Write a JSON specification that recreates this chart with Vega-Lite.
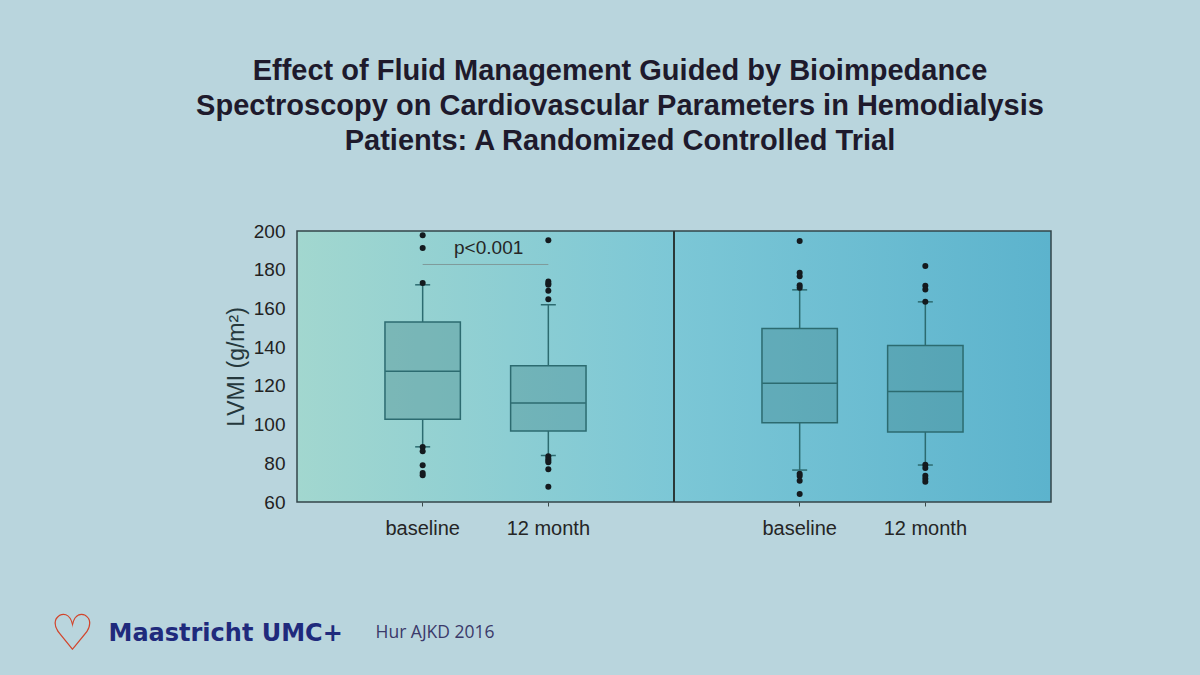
{
  "$schema": "https://vega.github.io/schema/vega-lite/v6.json",
  "autosize": {"type": "none"},
  "padding": {"left": 297, "top": 231, "right": 149, "bottom": 173},
  "width": 754,
  "height": 271,
  "background": "#b9d5dd",
  "title": {
    "text": ["Effect of Fluid Management Guided by Bioimpedance", "Spectroscopy on Cardiovascular Parameters in Hemodialysis", "Patients: A Randomized Controlled Trial"],
    "font": "Liberation Sans",
    "fontSize": 29,
    "fontWeight": "bold",
    "color": "#1e1a2c",
    "lineHeight": 35,
    "anchor": "middle",
    "frame": "group",
    "dx": -54,
    "offset": 37,
    "baseline": "bottom"
  },
  "config": {
    "view": {
      "stroke": "#33454a",
      "strokeWidth": 1.5,
      "fill": {"gradient": "linear", "x1": 0, "y1": 0, "x2": 1, "y2": 0, "stops": [{"offset": 0, "color": "#a2d7cf"}, {"offset": 0.5, "color": "#7cc7d6"}, {"offset": 1, "color": "#5cb3cd"}]}
    },
    "axis": {"grid": false}
  },
  "resolve": {"axis": {"x": "independent", "y": "independent"}},
  "datasets": {
    "boxes": [
      {"key": "L|baseline", "lower": 88.5, "q1": 102.8, "median": 127.5, "q3": 153, "upper": 172.2},
      {"key": "L|12 month", "lower": 84, "q1": 96.7, "median": 111.1, "q3": 130.4, "upper": 161.9},
      {"key": "R|baseline", "lower": 76.5, "q1": 100.9, "median": 121.3, "q3": 149.6, "upper": 169.6},
      {"key": "R|12 month", "lower": 79.1, "q1": 96.2, "median": 117.1, "q3": 140.8, "upper": 163.4}
    ],
    "outliers": [
      {"key": "L|baseline", "value": 197.8},
      {"key": "L|baseline", "value": 191.2},
      {"key": "L|baseline", "value": 173.1},
      {"key": "L|baseline", "value": 88.4},
      {"key": "L|baseline", "value": 86.2},
      {"key": "L|baseline", "value": 79.0},
      {"key": "L|baseline", "value": 75.0},
      {"key": "L|baseline", "value": 73.8},
      {"key": "L|12 month", "value": 195.2},
      {"key": "L|12 month", "value": 173.9},
      {"key": "L|12 month", "value": 172.9},
      {"key": "L|12 month", "value": 172.2},
      {"key": "L|12 month", "value": 169.1},
      {"key": "L|12 month", "value": 164.8},
      {"key": "L|12 month", "value": 83.6},
      {"key": "L|12 month", "value": 82.4},
      {"key": "L|12 month", "value": 81.4},
      {"key": "L|12 month", "value": 80.5},
      {"key": "L|12 month", "value": 76.9},
      {"key": "L|12 month", "value": 67.9},
      {"key": "R|baseline", "value": 194.8},
      {"key": "R|baseline", "value": 178.4},
      {"key": "R|baseline", "value": 176.6},
      {"key": "R|baseline", "value": 172.0},
      {"key": "R|baseline", "value": 170.7},
      {"key": "R|baseline", "value": 74.6},
      {"key": "R|baseline", "value": 73.4},
      {"key": "R|baseline", "value": 71.0},
      {"key": "R|baseline", "value": 64.1},
      {"key": "R|12 month", "value": 181.9},
      {"key": "R|12 month", "value": 171.7},
      {"key": "R|12 month", "value": 169.8},
      {"key": "R|12 month", "value": 163.4},
      {"key": "R|12 month", "value": 79.3},
      {"key": "R|12 month", "value": 77.6},
      {"key": "R|12 month", "value": 73.6},
      {"key": "R|12 month", "value": 72.0},
      {"key": "R|12 month", "value": 70.4}
    ],
    "sig": [{"from": "L|baseline", "to": "L|12 month", "y": 182.7, "labelY": 191.2, "label": "p<0.001"}],
    "divider": [{"key": "gap"}]
  },
  "layer": [
    {
      "data": {"name": "boxes"},
      "mark": {"type": "rule", "stroke": "#2c6b70", "strokeWidth": 1.5},
      "encoding": {
        "x": {"field": "key", "type": "nominal", "axis": null, "scale": {"domain": ["L|baseline", "L|12 month", "gap", "R|baseline", "R|12 month"], "paddingInner": 0.4, "paddingOuter": 0.7}},
        "y": {"field": "lower", "type": "quantitative", "axis": null, "scale": {"domain": [60, 200], "nice": false, "zero": false}},
        "y2": {"field": "q1"}
      }
    },
    {
      "data": {"name": "boxes"},
      "mark": {"type": "rule", "stroke": "#2c6b70", "strokeWidth": 1.5},
      "encoding": {
        "x": {"field": "key", "type": "nominal", "axis": null, "scale": {"domain": ["L|baseline", "L|12 month", "gap", "R|baseline", "R|12 month"], "paddingInner": 0.4, "paddingOuter": 0.7}},
        "y": {"field": "q3", "type": "quantitative", "axis": null, "scale": {"domain": [60, 200], "nice": false, "zero": false}},
        "y2": {"field": "upper"}
      }
    },
    {
      "data": {"name": "boxes"},
      "mark": {"type": "bar", "fill": "#3a7c80", "fillOpacity": 0.32, "stroke": "#2c6b70", "strokeWidth": 1.5},
      "encoding": {
        "x": {
          "field": "key", "type": "nominal",
          "scale": {"domain": ["L|baseline", "L|12 month", "gap", "R|baseline", "R|12 month"], "paddingInner": 0.4, "paddingOuter": 0.7},
          "axis": {
            "orient": "bottom",
            "values": ["L|baseline", "L|12 month", "R|baseline", "R|12 month"],
            "labelExpr": "split(datum.label, '|')[1]",
            "labelAngle": 0,
            "labelFont": "Liberation Sans",
            "labelFontSize": 20,
            "labelColor": "#252525",
            "labelPadding": 12,
            "domain": false,
            "ticks": true,
            "tickSize": 4,
            "tickColor": "#3a4a4a",
            "bandPosition": 0.5,
            "title": "Maastricht UMC+",
            "titleX": -189,
            "titleY": 131,
            "titleAlign": "left",
            "titleAnchor": null,
            "titleBaseline": "middle",
            "titleFont": "DejaVu Sans",
            "titleFontSize": 24,
            "titleFontWeight": "bold",
            "titleColor": "#1f2a7c"
          }
        },
        "y": {
          "field": "q1", "type": "quantitative",
          "scale": {"domain": [60, 200], "nice": false, "zero": false},
          "axis": {
            "orient": "left",
            "values": [60, 80, 100, 120, 140, 160, 180, 200],
            "ticks": false,
            "tickSize": 0,
            "domain": false,
            "labelFont": "Liberation Sans",
            "labelFontSize": 19,
            "labelColor": "#222222",
            "labelPadding": 12,
            "title": "LVMI (g/m²)",
            "titleFont": "Liberation Sans",
            "titleFontSize": 23,
            "titleFontWeight": "normal",
            "titleColor": "#25383c",
            "titlePadding": 5
          }
        },
        "y2": {"field": "q3"}
      }
    },
    {
      "data": {"name": "boxes"},
      "mark": {"type": "tick", "color": "#2c6b70", "size": 75, "thickness": 1.5, "opacity": 1},
      "encoding": {
        "x": {"field": "key", "type": "nominal", "axis": null, "scale": {"domain": ["L|baseline", "L|12 month", "gap", "R|baseline", "R|12 month"], "paddingInner": 0.4, "paddingOuter": 0.7}},
        "y": {"field": "median", "type": "quantitative", "axis": null, "scale": {"domain": [60, 200], "nice": false, "zero": false}}
      }
    },
    {
      "data": {"name": "boxes"},
      "mark": {"type": "tick", "color": "#2c6b70", "size": 15, "thickness": 1.5, "opacity": 1},
      "encoding": {
        "x": {"field": "key", "type": "nominal", "axis": null, "scale": {"domain": ["L|baseline", "L|12 month", "gap", "R|baseline", "R|12 month"], "paddingInner": 0.4, "paddingOuter": 0.7}},
        "y": {"field": "lower", "type": "quantitative", "axis": null, "scale": {"domain": [60, 200], "nice": false, "zero": false}}
      }
    },
    {
      "data": {"name": "boxes"},
      "mark": {"type": "tick", "color": "#2c6b70", "size": 15, "thickness": 1.5, "opacity": 1},
      "encoding": {
        "x": {"field": "key", "type": "nominal", "axis": null, "scale": {"domain": ["L|baseline", "L|12 month", "gap", "R|baseline", "R|12 month"], "paddingInner": 0.4, "paddingOuter": 0.7}},
        "y": {"field": "upper", "type": "quantitative", "axis": null, "scale": {"domain": [60, 200], "nice": false, "zero": false}}
      }
    },
    {
      "data": {"name": "outliers"},
      "mark": {"type": "point", "filled": true, "size": 36, "color": "#141a1e", "opacity": 1},
      "encoding": {
        "x": {"field": "key", "type": "nominal", "axis": null, "scale": {"domain": ["L|baseline", "L|12 month", "gap", "R|baseline", "R|12 month"], "paddingInner": 0.4, "paddingOuter": 0.7}},
        "y": {
          "field": "value", "type": "quantitative",
          "scale": {"domain": [60, 200], "nice": false, "zero": false},
          "axis": {
            "orient": "right",
            "labels": false,
            "ticks": false,
            "domain": false,
            "title": "♡",
            "titleAngle": 0,
            "titleX": -979,
            "titleY": 403,
            "titleAlign": "center",
            "titleAnchor": null,
            "titleBaseline": "middle",
            "titleFont": "DejaVu Sans",
            "titleFontSize": 50,
            "titleFontWeight": "bold",
            "titleColor": "#d2452c"
          }
        }
      }
    },
    {
      "data": {"name": "sig"},
      "mark": {"type": "rule", "stroke": "#7f9a9a", "strokeWidth": 1},
      "encoding": {
        "x": {"field": "from", "type": "nominal", "axis": null, "scale": {"domain": ["L|baseline", "L|12 month", "gap", "R|baseline", "R|12 month"], "paddingInner": 0.4, "paddingOuter": 0.7}},
        "x2": {"field": "to"},
        "y": {"field": "y", "type": "quantitative", "axis": null, "scale": {"domain": [60, 200], "nice": false, "zero": false}}
      }
    },
    {
      "data": {"name": "sig"},
      "mark": {"type": "text", "font": "Liberation Sans", "fontSize": 19, "color": "#262626", "dx": 66, "align": "center", "baseline": "middle"},
      "encoding": {
        "x": {"field": "from", "type": "nominal", "axis": null, "scale": {"domain": ["L|baseline", "L|12 month", "gap", "R|baseline", "R|12 month"], "paddingInner": 0.4, "paddingOuter": 0.7}},
        "y": {"field": "labelY", "type": "quantitative", "axis": null, "scale": {"domain": [60, 200], "nice": false, "zero": false}},
        "text": {"field": "label"}
      }
    },
    {
      "data": {"name": "divider"},
      "mark": {"type": "rule", "stroke": "#2a3838", "strokeWidth": 2},
      "encoding": {
        "x": {
          "field": "key", "type": "nominal",
          "scale": {"domain": ["L|baseline", "L|12 month", "gap", "R|baseline", "R|12 month"], "paddingInner": 0.4, "paddingOuter": 0.7},
          "axis": {
            "orient": "top",
            "labels": false,
            "ticks": false,
            "domain": false,
            "title": "Hur AJKD 2016",
            "titleX": 78,
            "titleY": 401,
            "titleAlign": "left",
            "titleAnchor": null,
            "titleBaseline": "middle",
            "titleFont": "Open Sans",
            "titleFontSize": 17.5,
            "titleFontWeight": "normal",
            "titleColor": "#3b3a6a"
          }
        }
      }
    }
  ]
}
